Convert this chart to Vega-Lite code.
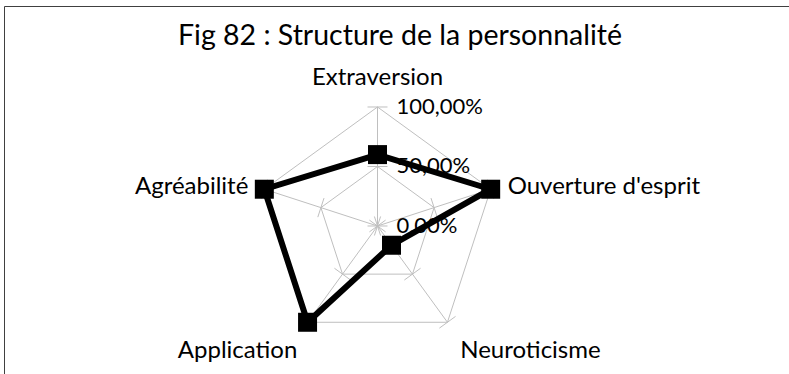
{
  "$schema": "https://vega.github.io/schema/vega-lite/v6.json",
  "width": 785,
  "height": 368,
  "autosize": {"type": "none"},
  "padding": {"left": 4, "top": 6, "right": 0, "bottom": 0},
  "background": "white",
  "config": {
    "view": {"stroke": "#404040", "strokeWidth": 1},
    "font": "Lato"
  },
  "title": {
    "text": "Fig 82 : Structure de la personnalité",
    "frame": "group",
    "anchor": "middle",
    "offset": -67,
    "baseline": "alphabetic",
    "fontSize": 28.5,
    "font": "Lato",
    "fontWeight": "normal",
    "color": "#000000",
    "dx": 3.5
  },
  "datasets": {
    "scores": [
      {"axe": "Extraversion", "idx": 0, "valeur": 0.6},
      {"axe": "Ouverture d'esprit", "idx": 1, "valeur": 1.0},
      {"axe": "Neuroticisme", "idx": 2, "valeur": 0.2},
      {"axe": "Application", "idx": 3, "valeur": 1.0},
      {"axe": "Agréabilité", "idx": 4, "valeur": 1.0}
    ],
    "grille": [
      {"idx": 0, "niveau": 0}, {"idx": 1, "niveau": 0}, {"idx": 2, "niveau": 0}, {"idx": 3, "niveau": 0}, {"idx": 4, "niveau": 0},
      {"idx": 0, "niveau": 0.5}, {"idx": 1, "niveau": 0.5}, {"idx": 2, "niveau": 0.5}, {"idx": 3, "niveau": 0.5}, {"idx": 4, "niveau": 0.5},
      {"idx": 0, "niveau": 1}, {"idx": 1, "niveau": 1}, {"idx": 2, "niveau": 1}, {"idx": 3, "niveau": 1}, {"idx": 4, "niveau": 1}
    ],
    "graduations": [
      {"niveau": 0, "libelle": "0,00%"},
      {"niveau": 0.5, "libelle": "50,00%"},
      {"niveau": 1, "libelle": "100,00%"}
    ]
  },
  "layer": [
    {
      "data": {"name": "grille"},
      "transform": [
        {"filter": "datum.niveau > 0"},
        {"calculate": "datum.idx * 2 * PI / 5", "as": "angle"},
        {"calculate": "datum.niveau * sin(datum.angle)", "as": "px"},
        {"calculate": "datum.niveau * cos(datum.angle)", "as": "py"}
      ],
      "mark": {"type": "line", "interpolate": "linear-closed", "color": "#BFBFBF", "strokeWidth": 1},
      "encoding": {
        "x": {"field": "px", "type": "quantitative", "scale": {"domain": [-3.1387, 3.458], "nice": false, "zero": false}, "axis": null},
        "y": {"field": "py", "type": "quantitative", "scale": {"domain": [-1.2437, 1.8487], "nice": false, "zero": false}, "axis": null},
        "detail": {"field": "niveau"},
        "order": {"field": "idx"}
      }
    },
    {
      "data": {"name": "grille"},
      "transform": [
        {"filter": "datum.niveau == 1"},
        {"calculate": "datum.idx * 2 * PI / 5", "as": "angle"},
        {"calculate": "datum.niveau * sin(datum.angle)", "as": "px"},
        {"calculate": "datum.niveau * cos(datum.angle)", "as": "py"}
      ],
      "mark": {"type": "rule", "color": "#BFBFBF", "strokeWidth": 1},
      "encoding": {
        "x": {"field": "px", "type": "quantitative", "scale": {"domain": [-3.1387, 3.458], "nice": false, "zero": false}, "axis": null},
        "y": {"field": "py", "type": "quantitative", "scale": {"domain": [-1.2437, 1.8487], "nice": false, "zero": false}, "axis": null},
        "x2": {"datum": 0},
        "y2": {"datum": 0}
      }
    },
    {
      "data": {"name": "grille"},
      "transform": [
        {"calculate": "datum.idx * 2 * PI / 5", "as": "angle"},
        {"calculate": "datum.niveau * sin(datum.angle) - 0.084 * cos(datum.angle)", "as": "tx1"},
        {"calculate": "datum.niveau * cos(datum.angle) + 0.084 * sin(datum.angle)", "as": "ty1"},
        {"calculate": "datum.niveau * sin(datum.angle) + 0.084 * cos(datum.angle)", "as": "tx2"},
        {"calculate": "datum.niveau * cos(datum.angle) - 0.084 * sin(datum.angle)", "as": "ty2"}
      ],
      "mark": {"type": "rule", "color": "#BFBFBF", "strokeWidth": 1},
      "encoding": {
        "x": {"field": "tx1", "type": "quantitative", "scale": {"domain": [-3.1387, 3.458], "nice": false, "zero": false}, "axis": null},
        "y": {"field": "ty1", "type": "quantitative", "scale": {"domain": [-1.2437, 1.8487], "nice": false, "zero": false}, "axis": null},
        "x2": {"field": "tx2"},
        "y2": {"field": "ty2"}
      }
    },
    {
      "data": {"name": "graduations"},
      "mark": {"type": "text", "align": "left", "baseline": "middle", "dx": 19, "fontSize": 22, "color": "#000000"},
      "encoding": {
        "x": {"datum": 0, "type": "quantitative", "scale": {"domain": [-3.1387, 3.458], "nice": false, "zero": false}, "axis": null},
        "y": {"field": "niveau", "type": "quantitative", "scale": {"domain": [-1.2437, 1.8487], "nice": false, "zero": false}, "axis": null},
        "text": {"field": "libelle"}
      }
    },
    {
      "data": {"name": "scores"},
      "transform": [
        {"calculate": "datum.idx * 2 * PI / 5", "as": "angle"},
        {"calculate": "datum.valeur * sin(datum.angle)", "as": "px"},
        {"calculate": "datum.valeur * cos(datum.angle)", "as": "py"}
      ],
      "mark": {"type": "line", "interpolate": "linear-closed", "color": "#000000", "strokeWidth": 6, "strokeJoin": "miter"},
      "encoding": {
        "x": {"field": "px", "type": "quantitative", "scale": {"domain": [-3.1387, 3.458], "nice": false, "zero": false}, "axis": null},
        "y": {"field": "py", "type": "quantitative", "scale": {"domain": [-1.2437, 1.8487], "nice": false, "zero": false}, "axis": null},
        "order": {"field": "idx"}
      }
    },
    {
      "data": {"name": "scores"},
      "transform": [
        {"calculate": "datum.idx * 2 * PI / 5", "as": "angle"},
        {"calculate": "datum.valeur * sin(datum.angle)", "as": "px"},
        {"calculate": "datum.valeur * cos(datum.angle)", "as": "py"}
      ],
      "mark": {"type": "point", "shape": "square", "size": 361, "filled": true, "color": "#000000", "opacity": 1},
      "encoding": {
        "x": {"field": "px", "type": "quantitative", "scale": {"domain": [-3.1387, 3.458], "nice": false, "zero": false}, "axis": null},
        "y": {"field": "py", "type": "quantitative", "scale": {"domain": [-1.2437, 1.8487], "nice": false, "zero": false}, "axis": null}
      }
    },
    {
      "data": {"name": "scores"},
      "transform": [
        {"filter": "datum.idx == 0"},
        {"calculate": "datum.idx * 2 * PI / 5", "as": "angle"},
        {"calculate": "sin(datum.angle)", "as": "px"},
        {"calculate": "cos(datum.angle)", "as": "py"}
      ],
      "mark": {"type": "text", "align": "center", "baseline": "alphabetic", "dy": -22, "fontSize": 24, "color": "#000000"},
      "encoding": {
        "x": {"field": "px", "type": "quantitative", "scale": {"domain": [-3.1387, 3.458], "nice": false, "zero": false}, "axis": null},
        "y": {"field": "py", "type": "quantitative", "scale": {"domain": [-1.2437, 1.8487], "nice": false, "zero": false}, "axis": null},
        "text": {"field": "axe"}
      }
    },
    {
      "data": {"name": "scores"},
      "transform": [
        {"filter": "datum.idx == 1"},
        {"calculate": "datum.idx * 2 * PI / 5", "as": "angle"},
        {"calculate": "sin(datum.angle)", "as": "px"},
        {"calculate": "cos(datum.angle)", "as": "py"}
      ],
      "mark": {"type": "text", "align": "left", "baseline": "alphabetic", "dx": 17, "dy": 5, "fontSize": 24, "color": "#000000"},
      "encoding": {
        "x": {"field": "px", "type": "quantitative", "scale": {"domain": [-3.1387, 3.458], "nice": false, "zero": false}, "axis": null},
        "y": {"field": "py", "type": "quantitative", "scale": {"domain": [-1.2437, 1.8487], "nice": false, "zero": false}, "axis": null},
        "text": {"field": "axe"}
      }
    },
    {
      "data": {"name": "scores"},
      "transform": [
        {"filter": "datum.idx == 2"},
        {"calculate": "datum.idx * 2 * PI / 5", "as": "angle"},
        {"calculate": "sin(datum.angle)", "as": "px"},
        {"calculate": "cos(datum.angle)", "as": "py"}
      ],
      "mark": {"type": "text", "align": "center", "baseline": "alphabetic", "dx": 83, "dy": 36, "fontSize": 24, "color": "#000000"},
      "encoding": {
        "x": {"field": "px", "type": "quantitative", "scale": {"domain": [-3.1387, 3.458], "nice": false, "zero": false}, "axis": null},
        "y": {"field": "py", "type": "quantitative", "scale": {"domain": [-1.2437, 1.8487], "nice": false, "zero": false}, "axis": null},
        "text": {"field": "axe"}
      }
    },
    {
      "data": {"name": "scores"},
      "transform": [
        {"filter": "datum.idx == 3"},
        {"calculate": "datum.idx * 2 * PI / 5", "as": "angle"},
        {"calculate": "sin(datum.angle)", "as": "px"},
        {"calculate": "cos(datum.angle)", "as": "py"}
      ],
      "mark": {"type": "text", "align": "center", "baseline": "alphabetic", "dx": -70, "dy": 36, "fontSize": 24, "color": "#000000"},
      "encoding": {
        "x": {"field": "px", "type": "quantitative", "scale": {"domain": [-3.1387, 3.458], "nice": false, "zero": false}, "axis": null},
        "y": {"field": "py", "type": "quantitative", "scale": {"domain": [-1.2437, 1.8487], "nice": false, "zero": false}, "axis": null},
        "text": {"field": "axe"}
      }
    },
    {
      "data": {"name": "scores"},
      "transform": [
        {"filter": "datum.idx == 4"},
        {"calculate": "datum.idx * 2 * PI / 5", "as": "angle"},
        {"calculate": "sin(datum.angle)", "as": "px"},
        {"calculate": "cos(datum.angle)", "as": "py"}
      ],
      "mark": {"type": "text", "align": "right", "baseline": "alphabetic", "dx": -16, "dy": 5, "fontSize": 24, "color": "#000000"},
      "encoding": {
        "x": {"field": "px", "type": "quantitative", "scale": {"domain": [-3.1387, 3.458], "nice": false, "zero": false}, "axis": null},
        "y": {"field": "py", "type": "quantitative", "scale": {"domain": [-1.2437, 1.8487], "nice": false, "zero": false}, "axis": null},
        "text": {"field": "axe"}
      }
    }
  ]
}
